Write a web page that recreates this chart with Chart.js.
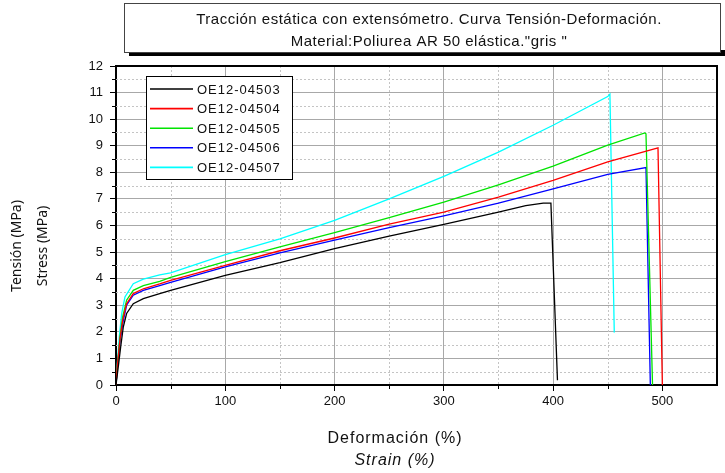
<!DOCTYPE html>
<html>
<head>
<meta charset="utf-8">
<script src="https://cdn.jsdelivr.net/npm/chart.js@4.4.1/dist/chart.umd.min.js"></script>
<style>
  html, body { margin: 0; padding: 0; background: #fff; }
  #wrap { width: 725px; height: 473px; position: relative; }
</style>
</head>
<body>
<div id="wrap"><canvas id="curva" width="725" height="473"></canvas></div>
<script>
// curvas tension-deformacion (deformacion %, tension MPa)
const seriesNames = ['OE12-04503', 'OE12-04504', 'OE12-04505', 'OE12-04506', 'OE12-04507'];
const seriesColors = ['#000000', '#ff0000', '#00e400', '#0000ff', '#00ffff'];

const strain03 = [0, 2.1, 4.3, 6.7, 9.7, 15.8, 25, 40, 50, 100, 150, 200, 250, 300, 350, 375, 391, 398, 404];
const stress03 = [0, 0.69, 1.44, 2.19, 2.69, 3.06, 3.25, 3.44, 3.56, 4.12, 4.6, 5.13, 5.6, 6.04, 6.5, 6.75, 6.84, 6.84, 0.18];

const strain04 = [0, 1.2, 3.7, 6.1, 9.7, 15.8, 25, 40, 50, 100, 150, 200, 250, 300, 350, 400, 450, 496, 500];
const stress04 = [0, 0.7, 1.75, 2.44, 3.06, 3.44, 3.62, 3.8, 3.94, 4.5, 5.05, 5.53, 6.05, 6.5, 7.07, 7.7, 8.39, 8.92, 0];

const strain05 = [0, 1.2, 3.7, 6.1, 9.7, 15.8, 25, 40, 50, 100, 150, 200, 250, 300, 350, 400, 450, 484, 485, 491];
const stress05 = [0, 0.69, 1.81, 2.56, 3.19, 3.56, 3.74, 3.9, 4.05, 4.64, 5.2, 5.73, 6.3, 6.88, 7.53, 8.23, 9.02, 9.48, 9.45, 0];

const strain06 = [0, 1.2, 3.7, 6.1, 9.7, 15.8, 25, 40, 50, 100, 150, 200, 250, 300, 350, 400, 450, 485, 489];
const stress06 = [0, 0.65, 1.65, 2.31, 3.0, 3.38, 3.56, 3.74, 3.86, 4.44, 4.97, 5.45, 5.92, 6.36, 6.84, 7.38, 7.92, 8.18, 0];

const strain07 = [0, 1.2, 3.0, 5.2, 8.2, 15.8, 25, 40, 50, 100, 150, 200, 250, 300, 350, 400, 450, 452, 456];
const stress07 = [0, 0.81, 1.81, 2.69, 3.31, 3.81, 3.98, 4.14, 4.22, 4.9, 5.5, 6.19, 7.0, 7.85, 8.76, 9.77, 10.85, 10.94, 1.97];

const titleLines = ['Tracción estática con extensómetro. Curva Tensión-Deformación.', 'Material:Poliurea AR 50 elástica."gris "'];
const yTitleLines = ['Tensión (MPa)', 'Stress (MPa)'];
const xTitleLines = ['Deformación (%)', 'Strain (%)'];

const allStrain = [strain03, strain04, strain05, strain06, strain07];
const allStress = [stress03, stress04, stress05, stress06, stress07];

function toPoints(xs, ys) {
  return xs.map((x, i) => ({ x: x, y: ys[i] }));
}

const datasets = seriesNames.map((name, i) => ({
  label: name,
  data: toPoints(allStrain[i], allStress[i]),
  borderColor: seriesColors[i],
  backgroundColor: seriesColors[i],
  borderWidth: 1.3,
  pointRadius: 0,
  tension: 0,
  fill: false
}));

// rejilla menor punteada, marco, leyenda y titulos
const decoPlugin = {
  id: 'deco',
  beforeDatasetsDraw(chart) {
    const ctx = chart.ctx;
    const a = chart.chartArea;
    const xs = chart.scales.x;
    const ys = chart.scales.y;
    ctx.save();
    ctx.strokeStyle = '#c4c4c4';
    ctx.lineWidth = 1;
    ctx.setLineDash([2, 2]);
    for (let v = 0.5; v < 12; v += 1) {
      const py = Math.round(ys.getPixelForValue(v)) + 0.5;
      ctx.beginPath(); ctx.moveTo(a.left, py); ctx.lineTo(a.right, py); ctx.stroke();
    }
    for (let v = 50; v < 550; v += 100) {
      const px = Math.round(xs.getPixelForValue(v)) + 0.5;
      ctx.beginPath(); ctx.moveTo(px, a.top); ctx.lineTo(px, a.bottom); ctx.stroke();
    }
    ctx.setLineDash([]);
    ctx.strokeStyle = '#000';
    for (let v = 0.5; v < 12; v += 1) {
      const py = Math.round(ys.getPixelForValue(v)) + 0.5;
      ctx.beginPath(); ctx.moveTo(a.left - 4, py); ctx.lineTo(a.left, py); ctx.stroke();
    }
    for (let v = 50; v < 550; v += 100) {
      const px = Math.round(xs.getPixelForValue(v)) + 0.5;
      ctx.beginPath(); ctx.moveTo(px, a.bottom); ctx.lineTo(px, a.bottom + 4); ctx.stroke();
    }
    ctx.restore();
  },
  afterDatasetsDraw(chart) {
    const ctx = chart.ctx;
    const a = chart.chartArea;
    ctx.save();
    // marco superior y derecho
    ctx.strokeStyle = '#000';
    ctx.lineWidth = 2;
    ctx.beginPath();
    ctx.moveTo(a.left, a.top); ctx.lineTo(a.right, a.top); ctx.lineTo(a.right, a.bottom);
    ctx.stroke();

    // leyenda
    const lx = 146, ly = 76, lw = 146, lh = 103;
    ctx.fillStyle = '#fff';
    ctx.fillRect(lx, ly, lw, lh);
    ctx.lineWidth = 1;
    ctx.strokeStyle = '#000';
    ctx.strokeRect(lx + 0.5, ly + 0.5, lw, lh);
    ctx.font = '13px "Liberation Sans", Arial, sans-serif';
    ctx.letterSpacing = '1px';
    ctx.textBaseline = 'middle';
    ctx.textAlign = 'left';
    chart.data.datasets.forEach((ds, i) => {
      const yy = 89 + i * 19.6;
      ctx.strokeStyle = ds.borderColor;
      ctx.lineWidth = 1.6;
      ctx.beginPath(); ctx.moveTo(150, yy); ctx.lineTo(193, yy); ctx.stroke();
      ctx.fillStyle = '#111';
      ctx.fillText(ds.label, 197, yy + 1);
    });
    ctx.restore();
  },
  afterDraw(chart) {
    const ctx = chart.ctx;
    ctx.save();
    // caja del titulo con sombra
    ctx.fillStyle = '#000';
    ctx.fillRect(129, 50, 596, 6);
    ctx.fillStyle = '#fff';
    ctx.fillRect(124, 3, 596, 50);
    ctx.strokeStyle = '#444';
    ctx.lineWidth = 1;
    ctx.strokeRect(124.5, 3.5, 596, 49);
    ctx.fillStyle = '#111';
    ctx.textAlign = 'center';
    ctx.textBaseline = 'middle';
    ctx.font = '15px "Liberation Sans", Arial, sans-serif';
    ctx.letterSpacing = '0.5px';
    ctx.fillText(titleLines[0], 429, 20);
    ctx.fillText(titleLines[1], 429, 42);

    // titulo eje x
    ctx.letterSpacing = '1px';
    ctx.font = '16px "Liberation Sans", Arial, sans-serif';
    ctx.fillText(xTitleLines[0], 395, 439);
    ctx.font = 'italic 16px "Liberation Sans", Arial, sans-serif';
    ctx.fillText(xTitleLines[1], 395, 461);

    // titulo eje y
    ctx.letterSpacing = '0px';
    ctx.font = '14px "Noto Sans", "Open Sans", sans-serif';
    ctx.translate(17, 246);
    ctx.rotate(-Math.PI / 2);
    ctx.fillText(yTitleLines[0], 0, 0);
    ctx.fillText(yTitleLines[1], 0, 26);
    ctx.restore();
  }
};

const tickFont = { family: '"Liberation Sans", Arial, sans-serif', size: 13 };

new Chart(document.getElementById('curva').getContext('2d'), {
  type: 'line',
  data: { datasets: datasets },
  options: {
    responsive: false,
    animation: false,
    layout: { padding: { left: 0, right: 8, top: 66, bottom: 0 } },
    plugins: {
      legend: { display: false },
      title: { display: false },
      tooltip: { enabled: false }
    },
    scales: {
      x: {
        type: 'linear',
        min: 0,
        max: 550,
        ticks: { stepSize: 100, font: tickFont, color: '#111', padding: 3, maxRotation: 0 },
        afterBuildTicks(scale) { scale.ticks = scale.ticks.filter(t => t.value % 100 === 0); },
        afterFit(scale) { scale.height = 88; },
        grid: { color: '#a8a8a8', lineWidth: 1, tickLength: 6, tickColor: '#000' },
        border: { color: '#000', width: 2 }
      },
      y: {
        type: 'linear',
        min: 0,
        max: 12,
        ticks: { stepSize: 1, font: tickFont, color: '#111', padding: 7 },
        afterFit(scale) { scale.width = 116; },
        grid: { color: '#a8a8a8', lineWidth: 1, tickLength: 6, tickColor: '#000' },
        border: { color: '#000', width: 2 }
      }
    }
  },
  plugins: [decoPlugin]
});
</script>
</body>
</html>
